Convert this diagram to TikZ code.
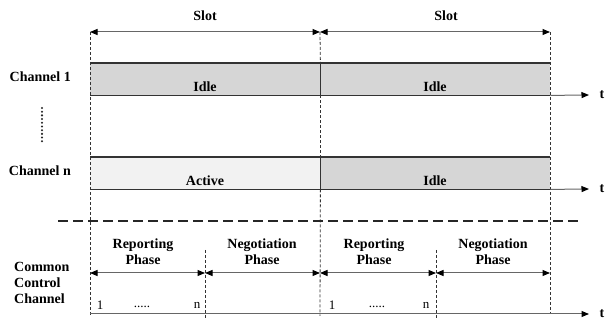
\documentclass[tikz,border=0pt]{standalone}
\usepackage{fontspec}
\setmainfont{Liberation Serif}
\usetikzlibrary{arrows.meta}
\begin{document}
\begin{tikzpicture}[x=1pt,y=-1pt,
  lbl/.style={font=\fontsize{14}{16}\selectfont\bfseries, inner sep=0pt, align=center},
  num/.style={font=\fontsize{13}{15}\selectfont, inner sep=0pt},
  span/.style={draw=black!60, line width=1pt, {Triangle[length=7.5pt,width=6pt,color=black,fill=black]}-{Triangle[length=7.5pt,width=6pt,color=black,fill=black]}},
  axis/.style={draw=black!60, line width=1pt, -{Triangle[length=7.5pt,width=6pt,color=black,fill=black]}},
  guide/.style={draw=black!80, line width=0.8pt, dash pattern=on 3pt off 2pt},
  edge/.style={draw=black!80, line width=1.1pt},
  idlebox/.style={fill=black!16, minimum width=230pt, minimum height=32pt, inner sep=0pt, anchor=north west},
  activebox/.style={fill=black!5, minimum width=230pt, minimum height=32pt, inner sep=0pt, anchor=north west},
]
\useasboundingbox (0,0) rectangle (611,320);

% channel boxes
\node[idlebox] (c1a) at (90,63) {};
\node[idlebox] (c1b) at (320,63) {};
\node[activebox] (cna) at (90,157) {};
\node[idlebox] (cnb) at (320,157) {};
\foreach \a/\b in {c1a/c1b, cna/cnb}{
  \draw[edge] (\a.north west) -- (\b.north east);
  \draw[edge] (\a.south west) -- (\b.south east);
  \draw[edge] (\a.north east) -- (\a.south east);
}

% guide lines
\coordinate (g0t) at (90,32);  \coordinate (g0b) at (90,315);
\coordinate (g1t) at (320,32); \coordinate (g1b) at (320,316);
\coordinate (g2t) at (550,32); \coordinate (g2b) at (550,314);
\coordinate (p1t) at (205,250); \coordinate (p1b) at (205,320);
\coordinate (p2t) at (436,250); \coordinate (p2b) at (436,320);
\draw[guide] (g0t) -- (g0b);
\draw[guide] (g1t) -- (c1a.north east);
\draw[guide] (c1a.south east) -- (cna.north east);
\draw[guide] (cna.south east) -- (g1b);
\draw[guide] (g2t) -- (g2b);
\draw[guide] (p1t) -- (p1b);
\draw[guide] (p2t) -- (p2b);

% slot spans
\draw[span] (g0t) -- (g1t);
\draw[span] (g1t) -- (g2t);
\node[lbl] (slot1) at (205,16) {Slot};
\node[lbl] (slot2) at (446,16) {Slot};

% labels inside boxes
\node[lbl] (idle1) at (205,87) {Idle};
\node[lbl] (idle2) at (435,87) {Idle};
\node[lbl] (act) at (205,181) {Active};
\node[lbl] (idle3) at (435,181) {Idle};

% channel labels
\node[lbl, anchor=east] (ch1) at (71,77) {Channel 1};
\node[lbl, anchor=east] (chn) at (71,171) {Channel n};
\coordinate (d0) at (42,108); \coordinate (d1) at (42,142);
\draw[black!85, line width=2.3pt, dash pattern=on 0pt off 3.7pt, line cap=round] (d0) -- (d1);

% time axes
\coordinate (a1) at (589,95);
\coordinate (a2) at (589,189);
\coordinate (a3) at (589,314);
\coordinate (a3s) at (90,314);
\draw[axis] (c1b.south east) -- (a1);
\draw[axis] (cnb.south east) -- (a2);
\draw[axis] (a3s) -- (a3);
\node[lbl] (t1) at (602,95) {t};
\node[lbl] (t2) at (602,189) {t};
\node[lbl] (t3) at (602,314) {t};

% separator
\coordinate (h0) at (58,221); \coordinate (h1) at (578,221);
\draw[black!85, line width=1.2pt, dash pattern=on 10pt off 5pt] (h0) -- (h1);

% phases
\coordinate (q0) at (90,273); \coordinate (q1) at (205,273);
\coordinate (q2) at (320,273); \coordinate (q3) at (436,273);
\coordinate (q4) at (550,273);
\draw[span] (q0) -- (q1);
\draw[span] (q1) -- (q2);
\draw[span] (q2) -- (q3);
\draw[span] (q3) -- (q4);
\node[lbl] (rp1) at (143,252) {Reporting\\Phase};
\node[lbl] (np1) at (262,252) {Negotiation\\Phase};
\node[lbl] (rp2) at (374,252) {Reporting\\Phase};
\node[lbl] (np2) at (493,252) {Negotiation\\Phase};

\node[lbl, anchor=west, align=left] (ccc) at (14,283) {Common\\Control\\Channel};

% slot numbering
\node[num] (n11) at (100,305) {1};
\node[num] (n12) at (142,307) {.....};
\node[num] (n13) at (197,305) {n};
\node[num] (n21) at (332,305) {1};
\node[num] (n22) at (377,307) {.....};
\node[num] (n23) at (426,305) {n};
\end{tikzpicture}
\end{document}
